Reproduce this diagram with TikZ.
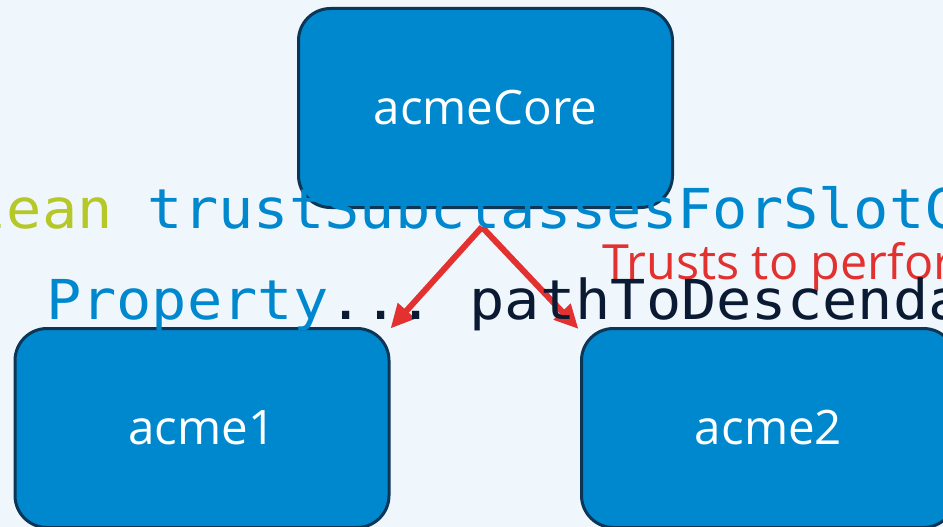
\documentclass[tikz,border=0pt]{standalone}
\usepackage{fontspec}
\setmainfont{Open Sans}
\newfontfamily\codefont[FakeStretch=1.066]{DejaVu Sans Mono}
\usetikzlibrary{arrows.meta}
\definecolor{bgc}{HTML}{F0F7FC}
\definecolor{boxfill}{HTML}{0088CF}
\definecolor{boxline}{HTML}{0D3656}
\definecolor{codeolive}{HTML}{B5C827}
\definecolor{codeblue}{HTML}{0088CF}
\definecolor{codedark}{HTML}{0B1A33}
\definecolor{arrred}{HTML}{E2312F}
\tikzset{
  modbox/.style={draw=boxline, fill=boxfill, line width=3pt, rounded corners=32pt,
    minimum width=374pt, minimum height=199pt, inner sep=0pt, outer sep=0pt,
    text=white, font=\fontsize{47.5pt}{56pt}\selectfont},
  codetext/.style={anchor=base west, inner sep=0pt, outer sep=0pt,
    font=\codefont\fontsize{55pt}{66pt}\selectfont\frenchspacing},
  redlabel/.style={anchor=base west, inner sep=0pt, outer sep=0pt, text=arrred,
    font=\fontsize{48.5pt}{58pt}\selectfont},
  trustarrow/.style={draw=arrred, line width=6pt, -{Triangle[length=24pt,width=22pt]}}
}
\begin{document}
\begin{tikzpicture}[x=1pt,y=-1pt]
\useasboundingbox (0,0) rectangle (943,527);
\clip (0,0) rectangle (943,527);
\fill[bgc] (0,0) rectangle (943,527);
\node[modbox] (core) at (485.5,108) {acmeCore};
\node[modbox] (acme1) at (202,428) {acme1};
\node[modbox] (acme2) at (768.5,428) {acme2};
\coordinate (fork) at ([xshift=-3.5pt,yshift=-19.5pt]core.south);
\draw[trustarrow] (fork) -- ([xshift=1.5pt]acme1.north east);
\draw[trustarrow] (fork) -- ([xshift=-3pt,yshift=-0.5pt]acme2.north west);
\node[redlabel] (trusts) at (602,279) {Trusts to perfor};
\node[codetext] (code1) at (-28.5,228) {\textcolor{codeolive}{lean} \textcolor{codeblue}{trustSubclassesForSlotC}};
\node[codetext, text=codedark] (code2) at (46,319) {\textcolor{codeblue}{Property}... pathToDescenda};
\end{tikzpicture}
\end{document}
